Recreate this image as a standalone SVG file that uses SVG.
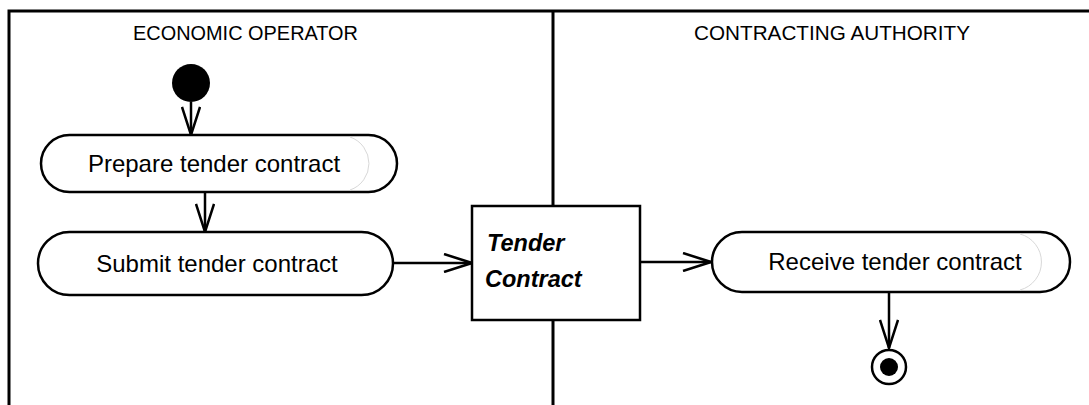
<svg xmlns="http://www.w3.org/2000/svg" width="1089" height="405" viewBox="0 0 1089 405">
<style>
.lane{fill:none;stroke:#000;stroke-width:3}
.lt{font-family:"Liberation Sans",Arial,sans-serif;font-size:21px;fill:#000;text-anchor:middle}
.act{fill:#fff;stroke:#000;stroke-width:2.5}
.shade{fill:none;stroke:#d8d8d8;stroke-width:1}
.at{font-family:"Liberation Sans",Arial,sans-serif;font-size:24px;fill:#000;text-anchor:middle}
.obj{fill:#fff;stroke:#000;stroke-width:2.5}
.ot{font-family:"Liberation Sans",Arial,sans-serif;font-size:23.5px;font-weight:bold;font-style:italic;fill:#000}
.edge{fill:none;stroke:#000;stroke-width:2.5}
</style>
<defs>
<marker id="open" viewBox="0 0 32 20" refX="30" refY="10" markerWidth="32" markerHeight="20" markerUnits="userSpaceOnUse" orient="auto">
<path d="M2,1 L30,10 L2,19" fill="none" stroke="#000" stroke-width="2.5"/>
</marker>
</defs>
<rect width="1089" height="405" fill="#fff"/>
<g id="lanes">
<path class="lane" d="M9,405 V11 H1089"/>
<line class="lane" x1="553" y1="11" x2="553" y2="405"/>
<text class="lt" x="245.5" y="40" textLength="225" lengthAdjust="spacingAndGlyphs">ECONOMIC OPERATOR</text>
<text class="lt" x="832" y="40" textLength="276" lengthAdjust="spacingAndGlyphs">CONTRACTING AUTHORITY</text>
</g>
<g id="connectors">
<line class="edge" x1="191" y1="102" x2="191" y2="135" marker-end="url(#open)"/>
<line class="edge" x1="205" y1="192" x2="205" y2="232" marker-end="url(#open)"/>
<line class="edge" x1="393" y1="263" x2="472" y2="263" marker-end="url(#open)"/>
<line class="edge" x1="640" y1="262" x2="711" y2="262" marker-end="url(#open)"/>
<line class="edge" x1="889" y1="292" x2="889" y2="348" marker-end="url(#open)"/>
</g>
<g id="start">
<circle cx="191" cy="83" r="19" fill="#000"/>
</g>
<g id="prepare">
<rect class="act" x="41" y="135" width="356" height="57" rx="28.5"/>
<path class="shade" d="M350,137 A28,28 0 0 1 350,190"/>
<text class="at" x="214" y="172">Prepare tender contract</text>
</g>
<g id="submit">
<rect class="act" x="38" y="232" width="355" height="63" rx="31.5"/>
<text class="at" x="217" y="272">Submit tender contract</text>
</g>
<g id="tender-contract">
<rect class="obj" x="472" y="206" width="168" height="114"/>
<text class="ot" x="487" y="251">Tender</text>
<text class="ot" x="485" y="287">Contract</text>
</g>
<g id="receive">
<rect class="act" x="712" y="232" width="358" height="60" rx="30"/>
<path class="shade" d="M1020,234 A29,29 0 0 1 1020,290"/>
<text class="at" x="895" y="270">Receive tender contract</text>
</g>
<g id="end">
<circle cx="889" cy="367" r="17" fill="#fff" stroke="#000" stroke-width="2.5"/>
<circle cx="889" cy="367" r="9" fill="#000"/>
</g>
</svg>
